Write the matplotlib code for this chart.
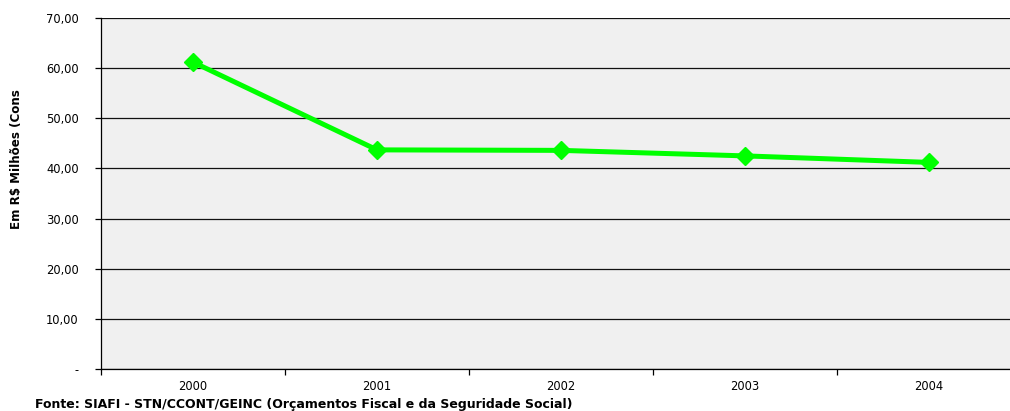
import matplotlib
matplotlib.use("Agg")
import matplotlib.pyplot as plt
from matplotlib.ticker import FixedLocator

years = ["2000", "2001", "2002", "2003", "2004"]
values = [61.2, 43.7, 43.6, 42.5, 41.2]
y_ticks = [0, 10, 20, 30, 40, 50, 60, 70]
y_tick_labels = ["-", "10,00", "20,00", "30,00", "40,00", "50,00", "60,00", "70,00"]
y_label = "Em R$ Milhões (Cons"
source = "Fonte: SIAFI - STN/CCONT/GEINC (Orçamentos Fiscal e da Seguridade Social)"

plt.rcParams['font.family'] = ['DejaVu Sans']

fig = plt.figure(figsize=(10.1, 4.11), dpi=100)
ax = fig.add_axes([0.1, 0.1022, 0.9109, 0.854])
ax.set_facecolor("#f0f0f0")

x = list(range(len(years)))
ax.plot(x, values, color="#00ff00", lw=3.6, marker="D", markersize=9,
        markeredgecolor="#00ff00", zorder=3, clip_on=False)

ax.set_xlim(-0.5, len(years) - 0.5)
ax.set_ylim(0, 70)
ax.set_yticks(y_ticks)
ax.set_yticklabels(y_tick_labels, fontsize=8.3)
ax.yaxis.grid(True, color="#111111", lw=0.9)
ax.set_axisbelow(True)

ax.set_xticks(x)
ax.set_xticklabels(years, fontsize=8.3)
ax.xaxis.set_minor_locator(FixedLocator([i + 0.5 for i in range(-1, len(years))]))
ax.tick_params(axis="x", which="major", length=0, pad=8)
ax.tick_params(axis="x", which="minor", length=4, width=0.9, direction="out")
ax.tick_params(axis="y", length=4, width=0.9, direction="out", pad=12)

for s in ["top", "right"]:
    ax.spines[s].set_visible(False)
for s in ["left", "bottom"]:
    ax.spines[s].set_color("black")
    ax.spines[s].set_linewidth(0.9)

fig.text(0.016, 0.613, y_label, rotation=90, fontsize=8.6, fontweight="bold",
         ha="center", va="center")
fig.text(0.035, 0.017, source, fontsize=9.0, fontweight="bold", ha="left", va="center")

fig.savefig("out.png", dpi=100, facecolor="white")
